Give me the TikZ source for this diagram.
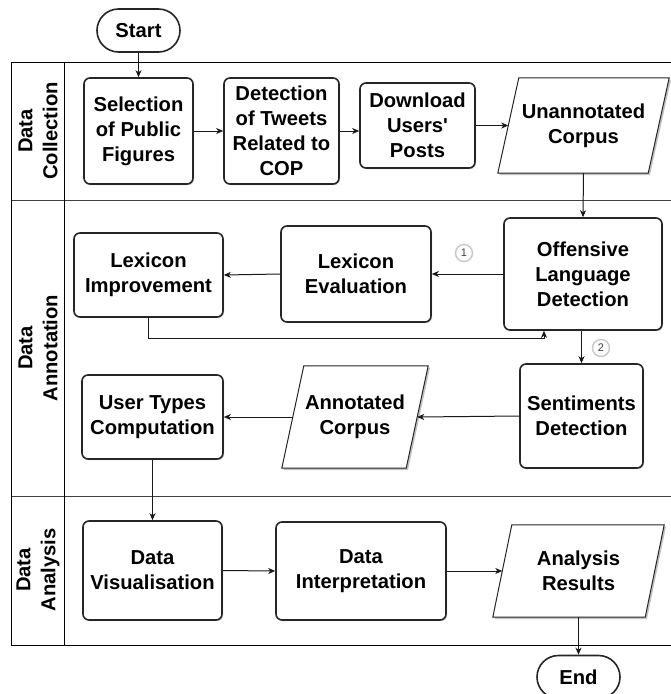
\documentclass[tikz,border=0pt]{standalone}
\usepackage{fontspec}
\setmainfont{Liberation Sans}
\usetikzlibrary{arrows.meta,shapes.misc,shadows,backgrounds,calc}
\begin{document}
\begin{tikzpicture}[x=1pt,y=-1pt,
  boxfont/.style={font=\fontsize{20.2}{25}\selectfont\bfseries},
  box/.style={boxfont,draw=black!85,line width=1.6pt,rounded corners=6pt,align=center,inner sep=0pt,fill=white,
    drop shadow={shadow xshift=1.2pt,shadow yshift=-1.2pt,opacity=0.25,fill=black!70}},
  term/.style={boxfont,draw=black!85,line width=1.6pt,rounded rectangle,minimum width=83pt,minimum height=43pt,inner sep=0pt,fill=white},
  paratext/.style={boxfont,align=center,inner sep=0pt},
  para/.style={draw=black!85,line width=1pt,fill=white,
    drop shadow={shadow xshift=1.8pt,shadow yshift=-1.8pt,opacity=0.35,fill=black!70}},
  lane/.style={draw=black!75,line width=1pt},
  frame/.style={draw=black,line width=1pt},
  conn/.style={draw=black!90,line width=1pt,-{Stealth[length=7pt,width=6pt,inset=2pt]}},
  lanelabel/.style={boxfont,align=center,rotate=90,inner sep=0pt},
  num/.style={circle,draw=black!22,line width=1.4pt,minimum size=17pt,inner sep=0pt,text=black!75,font=\fontsize{11}{11}\selectfont}
]
\useasboundingbox (0,0) rectangle (671,694);

% swimlane frame
\draw[frame] (671,62) -- (11.7,62) -- (11.7,645) -- (671,645);
\draw[lane] (11.7,200) -- (671,200);
\draw[lane] (11.7,496) -- (671,496);
\draw[frame] (64,62) -- (64,645);

\node[lanelabel] (l1) at (38,131) {Data\\Collection};
\node[lanelabel] (l2) at (38,348) {Data\\Annotation};
\node[lanelabel] (l3) at (38,570) {Data\\Analysis};

% terminals
\node[term] (start) at (138.5,30.5) {Start};
\node[term] (end) at (578.5,677) {End};

% data collection
\node[box,minimum width=109pt,minimum height=106pt] (sel) at (138.5,131) {Selection\\of Public\\Figures};
\node[box,minimum width=115pt,minimum height=106pt] (det) at (281.5,131) {Detection\\of Tweets\\Related to\\COP};
\node[box,minimum width=115pt,minimum height=85pt] (dl) at (417.5,125.5) {Download\\Users\textquotesingle\\Posts};
\node[paratext,minimum width=171pt,minimum height=95pt] (unann) at (583.5,125.5) {Unannotated\\Corpus};

% data annotation
\node[box,minimum width=158pt,minimum height=112pt] (off) at (583,274) {Offensive\\Language\\Detection};
\node[box,minimum width=150pt,minimum height=96pt] (leval) at (356,274) {Lexicon\\Evaluation};
\node[box,minimum width=149pt,minimum height=84pt] (limp) at (148.5,275) {Lexicon\\Improvement};
\node[box,minimum width=123pt,minimum height=104pt] (sent) at (581.5,416) {Sentiments\\Detection};
\node[paratext,minimum width=146pt,minimum height=102pt] (ann) at (355,417) {Annotated\\Corpus};
\node[box,minimum width=141pt,minimum height=84pt] (utc) at (152.5,417) {User Types\\Computation};

% data analysis
\node[box,minimum width=139pt,minimum height=99pt] (dvis) at (152.5,570.5) {Data\\Visualisation};
\node[box,minimum width=170pt,minimum height=98pt] (dint) at (361,571) {Data\\Interpretation};
\node[paratext,minimum width=171pt,minimum height=92pt] (ares) at (578.5,571) {Analysis\\Results};

% parallelogram outlines
\begin{scope}[on background layer]
\draw[para] ([xshift=21pt]unann.north west) -- (unann.north east) -- ([xshift=-21pt]unann.south east) -- (unann.south west) -- cycle;
\draw[para] ([xshift=22pt]ann.north west) -- (ann.north east) -- ([xshift=-22pt]ann.south east) -- (ann.south west) -- cycle;
\draw[para] ([xshift=19pt]ares.north west) -- (ares.north east) -- ([xshift=-19pt]ares.south east) -- (ares.south west) -- cycle;
\end{scope}

% step numbers
\node[num] (n1) at (464,253) {1};
\node[num] (n2) at (601,348) {2};

% connectors
\draw[conn] (start.south) -- (sel.north);
\draw[conn] (sel.east) -- (det.west);
\draw[conn] (det.east) -- (det.east -| dl.west);
\draw[conn] (dl.east) -- ([xshift=10.5pt]unann.west);
\draw[conn] (unann.south) -- (off.north);
\draw[conn] (off.west) -- (leval.east);
\draw[conn] (leval.west) -- (limp.east);
\coordinate (fb) at (544,338);
\draw[conn] (limp.south) |- (fb) -- (fb |- off.south);
\draw[conn] (sent.north |- off.south) -- (sent.north);
\draw[conn] (sent.west) -- ([xshift=-11pt]ann.east);
\draw[conn] ([xshift=11pt]ann.west) -- (utc.east);
\draw[conn] (utc.south) -- (dvis.north);
\draw[conn] (dvis.east) -- (dint.west);
\draw[conn] (dint.east) -- ([xshift=9.5pt]ares.west);
\draw[conn] (ares.south) -- (end.north);
\end{tikzpicture}
\end{document}
